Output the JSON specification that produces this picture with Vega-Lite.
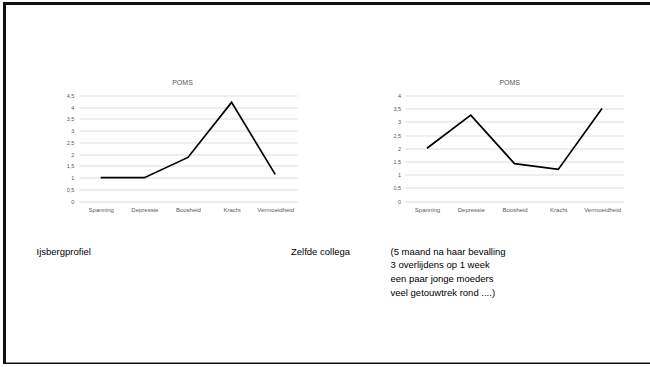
{
  "$schema": "https://vega.github.io/schema/vega-lite/v6.json",
  "width": 700,
  "height": 360.5,
  "autosize": {"type": "none"},
  "padding": {"left": 4.5, "top": 3.5, "right": 0, "bottom": 0},
  "background": "white",
  "config": {
    "view": {"stroke": "#111111", "strokeWidth": 3},
    "font": "Liberation Sans"
  },
  "title": {
    "text": "Zelfde collega",
    "anchor": "start",
    "frame": "group",
    "orient": "top",
    "offset": 0,
    "dx": 286.5,
    "dy": 261,
    "fontSize": 9.5,
    "fontWeight": "normal",
    "color": "#000000",
    "baseline": "alphabetic"
  },
  "datasets": {
    "ijsberg": [
      {"dim": "Spanning", "score": 1},
      {"dim": "Depressie", "score": 1},
      {"dim": "Boosheid", "score": 1.86},
      {"dim": "Kracht", "score": 4.2},
      {"dim": "Vermoeidheid", "score": 1.14}
    ],
    "collega": [
      {"dim": "Spanning", "score": 2},
      {"dim": "Depressie", "score": 3.25},
      {"dim": "Boosheid", "score": 1.42},
      {"dim": "Kracht", "score": 1.2},
      {"dim": "Vermoeidheid", "score": 3.5}
    ]
  },
  "layer": [
    {
      "data": {"name": "ijsberg"},
      "mark": {"type": "line", "color": "#000000", "strokeWidth": 1.7},
      "encoding": {
        "x": {
          "field": "dim", "type": "nominal", "sort": null,
          "scale": {"type": "point", "range": [74.4, 292.5], "padding": 0.5},
          "axis": {
            "orient": "bottom", "offset": -162.8, "labelAngle": 0,
            "labelFontSize": 6, "labelColor": "#595959", "labelPadding": 5,
            "ticks": false, "domain": false, "grid": false,
            "title": "Ijsbergprofiel", "titleX": 31.5, "titleY": 52.8,
            "titleAlign": "left", "titleBaseline": "alphabetic",
            "titleFontSize": 9.5, "titleFontWeight": "normal", "titleColor": "#000000"
          }
        },
        "y": {
          "field": "score", "type": "quantitative",
          "scale": {"domain": [0, 4.5], "range": [197.7, 91.8], "nice": false},
          "axis": {
            "orient": "left", "offset": -74.4,
            "values": [0, 0.5, 1, 1.5, 2, 2.5, 3, 3.5, 4, 4.5],
            "labelExpr": "replace(replace(datum.label, '.0', ''), '.', ',')",
            "labelFontSize": 5.5, "labelColor": "#595959", "labelPadding": 5,
            "ticks": false, "domain": false,
            "grid": true, "gridColor": "#d9d9d9", "gridWidth": 0.9,
            "title": "POMS", "titleAngle": 0, "titleX": 103.1, "titleY": 78.8,
            "titleAlign": "center", "titleBaseline": "middle",
            "titleFontSize": 7, "titleFontWeight": "normal", "titleColor": "#595959"
          }
        }
      }
    },
    {
      "data": {"name": "collega"},
      "mark": {"type": "line", "color": "#000000", "strokeWidth": 1.7},
      "encoding": {
        "x": {
          "field": "dim", "type": "nominal", "sort": null,
          "scale": {"type": "point", "range": [400.6, 619.4], "padding": 0.5},
          "axis": {
            "orient": "bottom", "offset": -162.8, "labelAngle": 0,
            "labelFontSize": 6, "labelColor": "#595959", "labelPadding": 5,
            "ticks": false, "domain": false, "grid": false,
            "title": ["(5 maand na haar bevalling", "3 overlijdens op 1 week", "een paar jonge moeders", "veel getouwtrek rond ....)"],
            "titleX": 385.5, "titleY": 52.8, "titleLineHeight": 13.7,
            "titleAlign": "left", "titleBaseline": "alphabetic",
            "titleFontSize": 9.5, "titleFontWeight": "normal", "titleColor": "#000000"
          }
        },
        "y": {
          "field": "score", "type": "quantitative",
          "scale": {"domain": [0, 4], "range": [197.7, 91.8], "nice": false},
          "axis": {
            "orient": "left", "offset": -400.6,
            "values": [0, 0.5, 1, 1.5, 2, 2.5, 3, 3.5, 4],
            "labelExpr": "replace(replace(datum.label, '.0', ''), '.', ',')",
            "labelFontSize": 5.5, "labelColor": "#595959", "labelPadding": 4.5,
            "ticks": false, "domain": false,
            "grid": true, "gridColor": "#d9d9d9", "gridWidth": 0.9,
            "title": "POMS", "titleAngle": 0, "titleX": 104.1, "titleY": 78.8,
            "titleAlign": "center", "titleBaseline": "middle",
            "titleFontSize": 7, "titleFontWeight": "normal", "titleColor": "#595959"
          }
        }
      }
    }
  ],
  "resolve": {
    "scale": {"x": "independent", "y": "independent"},
    "axis": {"x": "independent", "y": "independent"}
  }
}
